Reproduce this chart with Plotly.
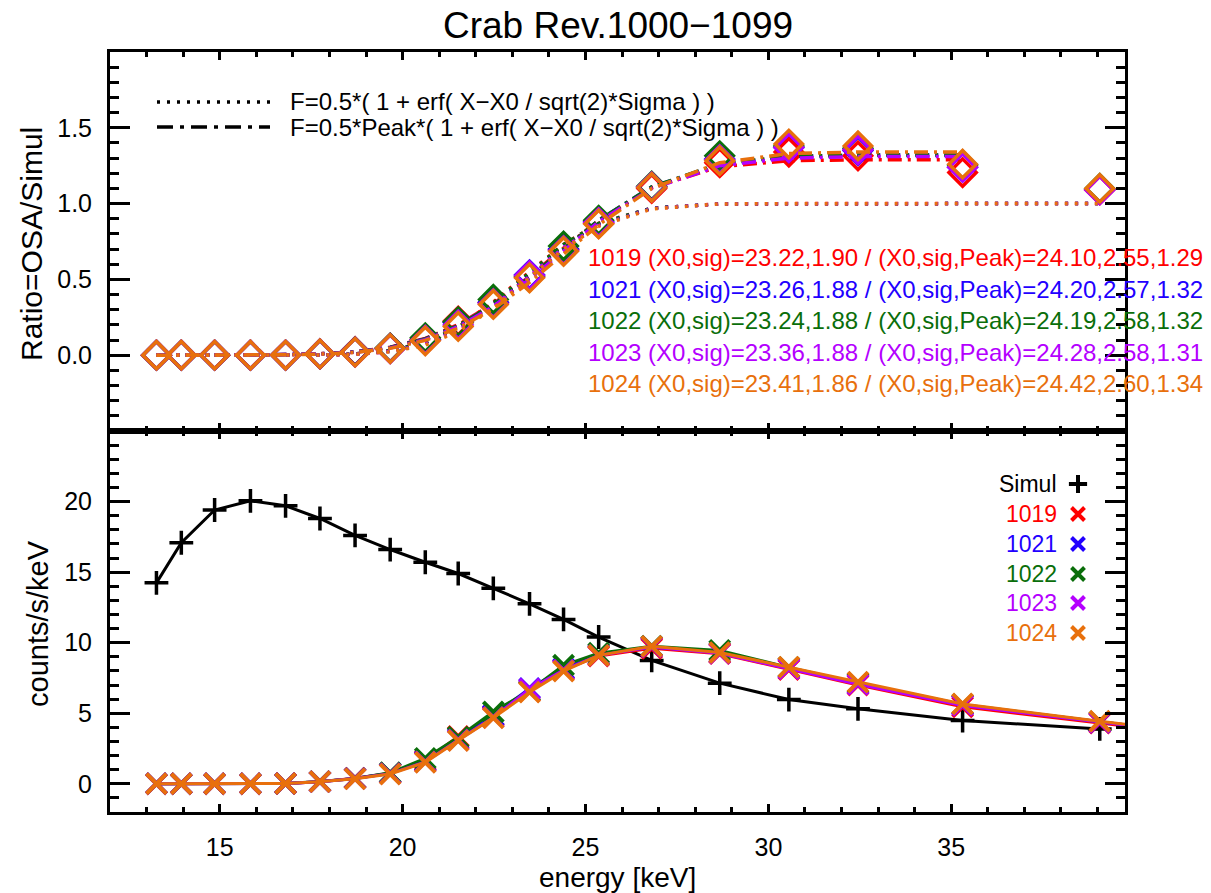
import plotly.graph_objects as go

# ---------------- data ----------------
energy = [13.27, 13.95, 14.86, 15.84, 16.80, 17.74, 18.70, 19.66, 20.62, 21.52,
          22.48, 23.47, 24.40, 25.36, 26.81, 28.67, 30.56, 32.45, 35.31, 39.06]
energy_ext = 43.0  # next spectral bin, beyond the axis range

simul = [14.24, 17.08, 19.40, 20.05, 19.70, 18.80, 17.60, 16.60, 15.70, 14.90,
         13.85, 12.75, 11.65, 10.40, 8.74, 7.13, 5.97, 5.31, 4.48, 3.89]

runs = ["1019", "1021", "1022", "1023", "1024"]
run_colors = ["#ff0000", "#2200ff", "#0a6e0a", "#b400ff", "#e8700c"]

counts_1019 = [0, 0, 0, 0, 0.02, 0.15, 0.40, 0.75, 1.65, 3.35, 4.80, 6.55, 8.10, 9.05, 9.60, 9.22, 8.10, 7.00, 5.45, 4.30, 3.10]
counts_1021 = [0, 0, 0, 0, 0.02, 0.15, 0.38, 0.75, 1.60, 3.20, 4.85, 6.75, 8.15, 9.15, 9.70, 9.30, 8.20, 7.10, 5.58, 4.36, 3.15]
counts_1022 = [0, 0, 0, 0, 0.02, 0.16, 0.38, 0.78, 1.80, 3.30, 5.10, 6.60, 8.40, 9.25, 9.75, 9.45, 8.25, 7.15, 5.62, 4.40, 3.20]
counts_1023 = [0, 0, 0, 0, 0.02, 0.15, 0.37, 0.72, 1.55, 3.10, 4.70, 6.70, 8.05, 9.10, 9.70, 9.25, 8.15, 7.05, 5.55, 4.35, 3.15]
counts_1024 = [0, 0, 0, 0, 0.02, 0.15, 0.35, 0.69, 1.52, 3.06, 4.67, 6.49, 7.98, 9.10, 9.74, 9.30, 8.27, 7.20, 5.66, 4.43, 3.20]

ratio_1019 = [0, 0, 0, 0, 0.001, 0.008, 0.023, 0.045, 0.105, 0.225, 0.347, 0.515, 0.695, 0.870, 1.100, 1.270, 1.340, 1.315, 1.205, 1.090]
ratio_1021 = [0, 0, 0, 0, 0.001, 0.008, 0.022, 0.045, 0.102, 0.215, 0.350, 0.530, 0.700, 0.880, 1.110, 1.295, 1.370, 1.350, 1.240, 1.095]
ratio_1022 = [0, 0, 0, 0, 0.001, 0.008, 0.022, 0.047, 0.115, 0.220, 0.368, 0.520, 0.720, 0.890, 1.115, 1.315, 1.380, 1.365, 1.255, 1.100]
ratio_1023 = [0, 0, 0, 0, 0.001, 0.008, 0.021, 0.043, 0.099, 0.200, 0.340, 0.525, 0.690, 0.875, 1.110, 1.290, 1.370, 1.355, 1.240, 1.090]
ratio_1024 = [0, 0, 0, 0, 0.001, 0.008, 0.020, 0.044, 0.095, 0.190, 0.335, 0.510, 0.685, 0.866, 1.107, 1.283, 1.393, 1.380, 1.260, 1.100]

# fit F=0.5*(1+erf(...)) read at each energy
fit1_1019 = [0, 0, 0, 0, 0, 0.002, 0.008, 0.030, 0.086, 0.186, 0.350, 0.550, 0.730, 0.870, 0.970, 0.998, 1, 1, 1, 1]
fit1_1021 = [0, 0, 0, 0, 0, 0.002, 0.008, 0.028, 0.082, 0.180, 0.340, 0.540, 0.725, 0.865, 0.970, 0.998, 1, 1, 1, 1]
fit1_1022 = [0, 0, 0, 0, 0, 0.002, 0.008, 0.029, 0.084, 0.183, 0.345, 0.545, 0.730, 0.870, 0.970, 0.998, 1, 1, 1, 1]
fit1_1023 = [0, 0, 0, 0, 0, 0.001, 0.006, 0.024, 0.073, 0.165, 0.320, 0.520, 0.710, 0.855, 0.967, 0.998, 1, 1, 1, 1]
fit1_1024 = [0, 0, 0, 0, 0, 0.001, 0.006, 0.022, 0.067, 0.155, 0.310, 0.510, 0.700, 0.850, 0.965, 0.998, 1, 1, 1, 1]

# fit F=0.5*Peak*(1+erf(...)) read at each energy (up to 35.3 keV)
fit2_1019 = [0, 0, 0, 0.001, 0.004, 0.010, 0.022, 0.053, 0.111, 0.201, 0.339, 0.519, 0.706, 0.889, 1.105, 1.243, 1.283, 1.289, 1.290]
fit2_1021 = [0, 0, 0, 0.001, 0.004, 0.009, 0.021, 0.051, 0.107, 0.195, 0.332, 0.512, 0.700, 0.890, 1.110, 1.260, 1.310, 1.320, 1.320]
fit2_1022 = [0, 0, 0, 0.001, 0.004, 0.009, 0.021, 0.051, 0.107, 0.195, 0.331, 0.511, 0.700, 0.890, 1.110, 1.262, 1.311, 1.320, 1.320]
fit2_1023 = [0, 0, 0, 0.001, 0.004, 0.008, 0.020, 0.048, 0.103, 0.188, 0.322, 0.500, 0.690, 0.880, 1.100, 1.250, 1.300, 1.310, 1.310]
fit2_1024 = [0, 0, 0, 0.001, 0.003, 0.007, 0.018, 0.045, 0.098, 0.178, 0.305, 0.480, 0.670, 0.860, 1.100, 1.270, 1.330, 1.340, 1.340]

fit_labels = [
    "1019 (X0,sig)=23.22,1.90 / (X0,sig,Peak)=24.10,2.55,1.29",
    "1021 (X0,sig)=23.26,1.88 / (X0,sig,Peak)=24.20,2.57,1.32",
    "1022 (X0,sig)=23.24,1.88 / (X0,sig,Peak)=24.19,2.58,1.32",
    "1023 (X0,sig)=23.36,1.88 / (X0,sig,Peak)=24.28,2.58,1.31",
    "1024 (X0,sig)=23.41,1.86 / (X0,sig,Peak)=24.42,2.60,1.34",
]

counts = [counts_1019, counts_1021, counts_1022, counts_1023, counts_1024]
ratios = [ratio_1019, ratio_1021, ratio_1022, ratio_1023, ratio_1024]
fit1 = [fit1_1019, fit1_1021, fit1_1022, fit1_1023, fit1_1024]
fit2 = [fit2_1019, fit2_1021, fit2_1022, fit2_1023, fit2_1024]

# ---------------- figure ----------------
W, H = 1211, 893
L, R, T, B = 110, 1125, 52, 812
SPLIT_PX = 431
XR = [12.0, 39.75]
Y2R = [-2.0, 25.0]
FONT = "Liberation Sans, Arial, Helvetica, sans-serif"

def py(p):  # pixel row -> paper y
    return (B - p) / (B - T)

def px(p):  # pixel column -> paper x
    return (p - L) / (R - L)

def x_of(p):  # pixel column -> energy axis value
    return XR[0] + (p - L) / (R - L) * (XR[1] - XR[0])

def y2_of(p):  # pixel row -> bottom-axis value
    return Y2R[0] + (B - p) / (B - SPLIT_PX) * (Y2R[1] - Y2R[0])

fig = go.Figure()

# ---- top panel: ratio ----
for i, r in enumerate(runs):
    c = run_colors[i]
    fig.add_trace(go.Scatter(x=energy, y=fit1[i], mode="lines", xaxis="x", yaxis="y",
                             line=dict(color=c, width=3.5, dash="3px,7px"), showlegend=False))
    fig.add_trace(go.Scatter(x=energy[:19], y=fit2[i], mode="lines", xaxis="x", yaxis="y",
                             line=dict(color=c, width=3.5, dash="14px,6px,3px,6px"), showlegend=False))
    fig.add_trace(go.Scatter(x=energy, y=ratios[i], mode="markers", xaxis="x", yaxis="y",
                             marker=dict(symbol="diamond-open", size=21, color=c,
                                         line=dict(color=c, width=3.5)), showlegend=False))

# ---- bottom panel: counts ----
fig.add_trace(go.Scatter(x=energy, y=simul, mode="lines+markers", xaxis="x2", yaxis="y2",
                         line=dict(color="black", width=3),
                         marker=dict(symbol="cross-thin", size=17, color="black",
                                     line=dict(color="black", width=3.5)), showlegend=False))
for i, r in enumerate(runs):
    c = run_colors[i]
    fig.add_trace(go.Scatter(x=energy + [energy_ext], y=counts[i], mode="lines+markers",
                             xaxis="x2", yaxis="y2",
                             line=dict(color=c, width=3),
                             marker=dict(symbol="x-thin", size=20, color=c,
                                         line=dict(color=c, width=4)), showlegend=False))

# ---- legend of bottom panel (text left of symbol) ----
leg_names = ["Simul"] + runs
leg_colors = ["black"] + run_colors
leg_rows = [484, 514, 544, 574, 603, 633]
annotations = []
shapes = []
for k, name in enumerate(leg_names):
    annotations.append(dict(x=px(1059), y=py(leg_rows[k]), xref="paper", yref="paper",
                            text=name, showarrow=False, xanchor="right", yanchor="middle",
                            font=dict(family=FONT, size=23, color=leg_colors[k])))
    sym = "cross-thin" if k == 0 else "x-thin"
    fig.add_trace(go.Scatter(x=[x_of(1078)], y=[y2_of(leg_rows[k])], mode="markers",
                             xaxis="x2", yaxis="y2",
                             marker=dict(symbol=sym, size=13, color=leg_colors[k],
                                         line=dict(color=leg_colors[k], width=4)),
                             showlegend=False, cliponaxis=False))

# ---- legend of top panel ----
shapes.append(dict(type="line", xref="paper", yref="paper", x0=px(157), x1=px(270),
                   y0=py(102), y1=py(102), line=dict(color="black", width=3.5, dash="3px,7px")))
shapes.append(dict(type="line", xref="paper", yref="paper", x0=px(157), x1=px(270),
                   y0=py(127), y1=py(127), line=dict(color="black", width=3.5, dash="16px,7px,4px,7px")))
annotations.append(dict(x=px(288), y=py(102), xref="paper", yref="paper", showarrow=False,
                        xanchor="left", yanchor="middle",
                        text="F=0.5*( 1 + erf( X\u2212X0 / sqrt(2)*Sigma ) )",
                        font=dict(family=FONT, size=24, color="black")))
annotations.append(dict(x=px(288), y=py(127), xref="paper", yref="paper", showarrow=False,
                        xanchor="left", yanchor="middle",
                        text="F=0.5*Peak*( 1 + erf( X\u2212X0 / sqrt(2)*Sigma ) )",
                        font=dict(family=FONT, size=24, color="black")))

# ---- fit parameter texts ----
txt_rows = [257, 289, 320, 352, 383]
for i, t in enumerate(fit_labels):
    annotations.append(dict(x=px(586), y=py(txt_rows[i]), xref="paper", yref="paper",
                            showarrow=False, xanchor="left", yanchor="middle", text=t,
                            font=dict(family=FONT, size=24, color=run_colors[i])))

# ---- axis titles and title ----
annotations.append(dict(x=px(31), y=py(244), xref="paper", yref="paper", showarrow=False,
                        text="Ratio=OSA/Simul", textangle=-90, xanchor="center", yanchor="middle",
                        font=dict(family=FONT, size=30, color="black")))
annotations.append(dict(x=px(38), y=py(624), xref="paper", yref="paper", showarrow=False,
                        text="counts/s/keV", textangle=-90, xanchor="center", yanchor="middle",
                        font=dict(family=FONT, size=29, color="black")))
annotations.append(dict(x=0.5, y=py(877), xref="paper", yref="paper", showarrow=False,
                        text="energy [keV]", xanchor="center", yanchor="middle",
                        font=dict(family=FONT, size=28, color="black")))
annotations.append(dict(x=0.5, y=py(25), xref="paper", yref="paper", showarrow=False,
                        text="Crab Rev.1000\u22121099", xanchor="center", yanchor="middle",
                        font=dict(family=FONT, size=37, color="black")))

split = py(SPLIT_PX)
TICKFONT = dict(family=FONT, size=25, color="black")
xcommon = dict(range=XR, tick0=0, dtick=5, ticks="inside", ticklen=8, tickwidth=3,
               tickcolor="black", showline=True, linecolor="black", linewidth=3, mirror="ticks",
               showgrid=False, zeroline=False,
               minor=dict(dtick=1, ticks="inside", ticklen=5, tickwidth=3, tickcolor="black",
                          showgrid=False),
               tickfont=TICKFONT)

fig.update_layout(
    width=W, height=H,
    margin=dict(l=L, r=W - R, t=T, b=H - B),
    paper_bgcolor="white", plot_bgcolor="white",
    showlegend=False,
    xaxis=dict(xcommon, anchor="y", showticklabels=False),
    yaxis=dict(domain=[split, 1], range=[-0.5, 2.0], tick0=0, dtick=0.5, tickformat=".1f",
               ticks="inside", ticklen=20, tickwidth=3, tickcolor="black",
               showline=True, linecolor="black", linewidth=3, mirror="ticks",
               showgrid=False, zeroline=False, anchor="x",
               minor=dict(dtick=0.1, ticks="inside", ticklen=9, tickwidth=3, tickcolor="black",
                          showgrid=False),
               tickfont=TICKFONT, ticklabelstandoff=10,
               tickvals=[0.0, 0.5, 1.0, 1.5]),
    xaxis2=dict(xcommon, anchor="y2", matches="x", ticklabelstandoff=11),
    yaxis2=dict(domain=[0, split], range=Y2R, tick0=0, dtick=5,
                ticks="inside", ticklen=20, tickwidth=3, tickcolor="black",
                showline=True, linecolor="black", linewidth=3, mirror="ticks",
                showgrid=False, zeroline=False, anchor="x2",
                minor=dict(dtick=1, ticks="inside", ticklen=9, tickwidth=3, tickcolor="black",
                           showgrid=False),
                tickfont=TICKFONT, ticklabelstandoff=10,
                tickvals=[0, 5, 10, 15, 20]),
    annotations=annotations,
    shapes=shapes,
)

fig.write_html("out.html")
